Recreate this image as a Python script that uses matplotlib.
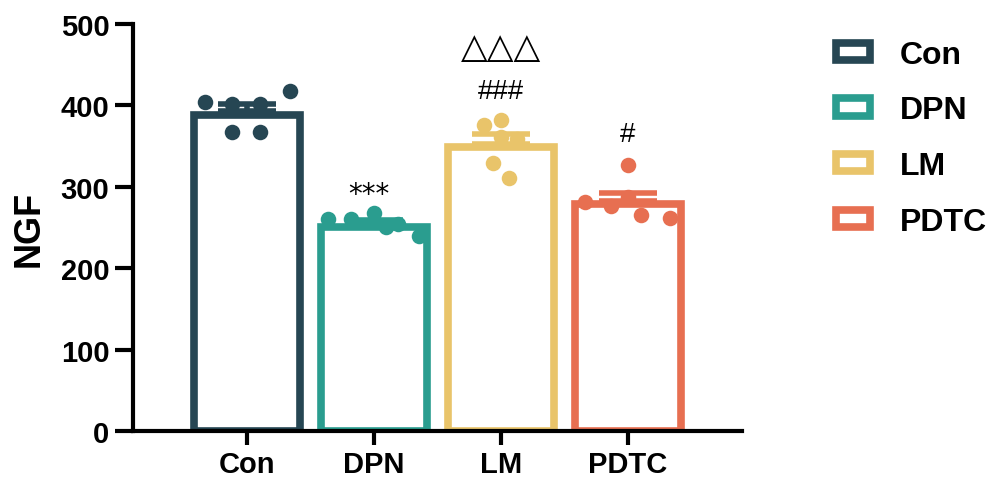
import matplotlib
matplotlib.use('Agg')
import matplotlib.pyplot as plt
from matplotlib.patches import Patch
import numpy as np

plt.rcParams['font.family'] = ['Liberation Sans', 'DejaVu Sans']
plt.rcParams['font.weight'] = 'bold'

groups = ['Con', 'DPN', 'LM', 'PDTC']
colors = ['#264653', '#2A9D8F', '#E9C46A', '#E76F51']

# individual NGF values
con = [404, 402, 402, 418, 367, 367]
dpn = [260, 260, 268, 254, 240, 251]
lm = [376, 382, 361, 359, 329, 311]
pdtc = [281, 276, 327, 287, 265, 262]
values = [con, dpn, lm, pdtc]

# significance marks: (group, label, height)
marks = [(1, '***', 291), (2, '###', 418), (3, '#', 365)]
tri_mark = (2, '\u25B3\u25B3\u25B3', 472)

# horizontal spread of the dots inside each bar
jitter = [[-0.33, -0.12, 0.10, 0.34, -0.12, 0.10],
          [-0.36, -0.18, 0.0, 0.19, 0.35, 0.09],
          [-0.13, 0.0, 0.0, 0.13, -0.06, 0.06],
          [-0.34, -0.13, 0.0, 0.0, 0.10, 0.33]]

fig = plt.figure(figsize=(9.89, 4.81), dpi=100)
ax = fig.add_axes([0.1345, 0.1019, 0.6158, 0.8461])
ax.set_xlim(-0.9, 3.9)
ax.set_ylim(0, 500)

lw = 5.5  # bar border, points
# borders sit inside the bar outline, so shrink by half a line width
half_x = (lw / 2 * 100 / 72) / 126.0
half_y = (lw / 2 * 100 / 72) * 500 / 407.0

for i, (vals, c) in enumerate(zip(values, colors)):
    vals = np.array(vals, dtype=float)
    mean = vals.mean()
    sem = vals.std(ddof=1) / np.sqrt(len(vals))
    ax.bar(i, mean - half_y, width=0.9 - 2 * half_x, facecolor='white',
           edgecolor=c, linewidth=lw, zorder=2)
    ax.scatter(i + np.array(jitter[i]), vals, s=125, color=c,
               linewidths=0, zorder=3)
    ax.errorbar(i, mean, yerr=[[0], [sem]], color=c, elinewidth=4,
                capsize=21, capthick=4, zorder=4)

for i, label, y in marks:
    fam = ['DejaVu Sans'] if label.startswith('*') else None
    ax.text(i - (0.04 if fam else 0), y, label, ha='center', va='center',
            fontsize=20, fontweight='normal', family=fam)
ax.text(tri_mark[0], tri_mark[2], tri_mark[1], ha='center', va='center',
        fontsize=25, fontweight='normal', family=['DejaVu Sans'])

for s in ['top', 'right']:
    ax.spines[s].set_visible(False)
for s in ['left', 'bottom']:
    ax.spines[s].set_linewidth(3)
ax.tick_params(width=3, length=13, labelsize=21, pad=4)
ax.tick_params(axis='x', length=10, pad=4)
ax.set_xticks(range(len(groups)))
ax.set_xticklabels(groups)
ax.set_yticks([0, 100, 200, 300, 400, 500])
ax.set_ylabel('NGF', fontsize=26, fontweight='bold', labelpad=10)

handles = [Patch(facecolor='white', edgecolor=c, linewidth=lw) for c in colors]
fig.legend(handles, groups, loc='upper left', bbox_to_anchor=(836 / 989, 0.915),
           frameon=False, fontsize=23, handlelength=1.07, handleheight=0.45,
           handletextpad=0.94, labelspacing=0.8, borderpad=0, borderaxespad=0)

fig.savefig('out.png', dpi=100)
